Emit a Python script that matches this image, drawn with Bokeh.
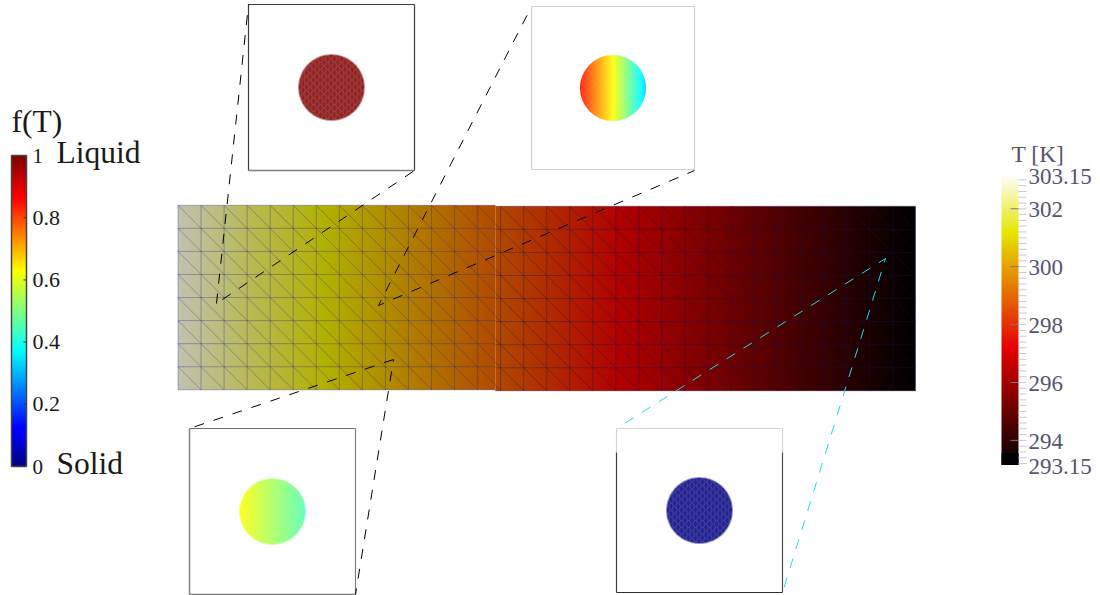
import numpy as np
from bokeh.plotting import figure
from bokeh.models import Range1d
from bokeh.core.properties import value
from bokeh.embed import file_html
from bokeh.resources import INLINE

# ---- data ----
# nodal temperature along the bar, one value per mesh column boundary (K)
bar_T = [302.95, 302.65, 302.35, 302.05, 301.80, 301.55, 301.27, 300.96, 300.65, 300.34, 300.02,
         299.71, 299.40, 299.09, 298.77, 298.46, 298.15, 297.84, 297.52, 297.21, 296.90, 296.59,
         296.27, 295.96, 295.65, 295.34, 295.02, 294.71, 294.40, 294.09, 293.77, 293.46, 293.15]
mesh_rows = [0, 1, 2, 3, 4, 5, 6, 7, 8]

# colour stops of both legends
T_stops = [293.15, 297.15, 301.15, 303.15]
T_r = [0, 230, 230, 255]
T_g = [0, 0, 230, 255]
T_b = [0, 0, 0, 255]
f_stops = [0.0, 0.11, 0.125, 0.37, 0.63, 0.865, 1.0]
f_r = [0, 0, 0, 0, 255, 255, 128]
f_g = [0, 0, 0, 255, 255, 0, 0]
f_b = [128, 255, 255, 255, 0, 0, 0]

f_ticks = [0.8, 0.6, 0.4, 0.2]
f_tick_labels = ["0.8", "0.6", "0.4", "0.2"]
f_ends = [1.0, 0.0]
f_end_labels = ["1", "0"]
f_states = ["Liquid", "Solid"]
T_major = [302, 300, 298, 296, 294]
T_major_labels = ["302", "300", "298", "296", "294"]
T_end = [303.15, 293.15]
T_end_labels = ["303.15", "293.15"]
T_minor = [293.2, 293.4, 293.6, 293.8, 294.0, 294.2, 294.4, 294.6, 294.8, 295.0, 295.2, 295.4, 295.6,
           295.8, 296.0, 296.2, 296.4, 296.6, 296.8, 297.0, 297.2, 297.4, 297.6, 297.8, 298.0, 298.2,
           298.4, 298.6, 298.8, 299.0, 299.2, 299.4, 299.6, 299.8, 300.0, 300.2, 300.4, 300.6, 300.8,
           301.0, 301.2, 301.4, 301.6, 301.8, 302.0, 302.2, 302.4, 302.6, 302.8, 303.0]

# liquid fraction across each inset's disc: left edge, centre, right edge
disc_pos = [-1.0, 0.0, 1.0]
disc_a = [1.0, 1.0, 1.0]
disc_b = [0.85, 0.63, 0.32]
disc_c = [0.63, 0.54, 0.45]
disc_d = [0.0, 0.0, 0.0]

# ---- page geometry ----
W, H = 1100, 595
p = figure(width=W, height=H, x_range=Range1d(0, W), y_range=Range1d(H, 0),
           output_backend="svg", toolbar_location=None, min_border=0,
           x_axis_location=None, y_axis_location=None, outline_line_color=None,
           background_fill_color="white", border_fill_color="white",
           styles={"position": "absolute", "left": "0px", "top": "0px"})
p.grid.visible = False


def linear_range(v0, px0, v1, px1, size):
    """Range whose value v0 falls on pixel px0 and v1 on px1, over a frame of `size` pixels."""
    k = (v1 - v0) / (px1 - px0)
    return v0 + (0 - px0) * k, v0 + (size - px0) * k


def add_x(name, v0, px0, v1, px1):
    a, b = linear_range(v0, px0, v1, px1, W)
    p.extra_x_ranges[name] = Range1d(a, b)


def add_y(name, v0, px0, v1, px1):
    a, b = linear_range(v0, px0, v1, px1, H)   # value at top pixel, value at bottom pixel
    p.extra_y_ranges[name] = Range1d(b, a)


FX0, FX1 = 177.5, 915.0
add_x("cell", 0, FX0, 32, FX1)
add_y("rowL", 0, 389.3, 8, 204.8)
add_y("rowR", 0, 390.3, 8, 205.8)
add_y("f", 0, 466, 1, 155)
add_y("T", 293.15, 464.5, 303.15, 175)


def cmap(v, stops, r, g, b):
    return np.stack([np.interp(v, stops, r), np.interp(v, stops, g), np.interp(v, stops, b)], axis=-1)


def rgba(rgb, alpha=None):
    out = np.zeros(rgb.shape[:2], dtype=np.uint32)
    view = out.view(np.uint8).reshape(rgb.shape[0], rgb.shape[1], 4)
    view[..., :3] = np.clip(rgb, 0, 255).astype(np.uint8)
    view[..., 3] = 255 if alpha is None else np.clip(alpha * 255, 0, 255).astype(np.uint8)
    return out


# ---- temperature field ----
DIM = 0.77
cells_split = 13.77
for c0, c1, rn in [(0, cells_split, "rowL"), (cells_split, 32, "rowR")]:
    n = int(round((c1 - c0) * 23.05))
    xs = np.linspace(c0, c1, n)
    T = np.interp(xs, np.arange(len(bar_T)), bar_T)
    rgb = cmap(T, T_stops, T_r, T_g, T_b) * DIM
    p.image_rgba(image=[rgba(rgb[None, :, :])], x=c0, y=0, dw=c1 - c0, dh=8,
                 x_range_name="cell", y_range_name=rn)

# mesh: horizontal, vertical, diagonal
for c0, c1, rn, cols, mesh_col, mesh_alpha in [
        (0, cells_split, "rowL", list(range(0, 14)), "#2a2a88", 0.34),
        (cells_split, 32, "rowR", list(range(14, 33)), "#14144c", 0.36)]:
    mx, my = [], []
    for r in mesh_rows:
        mx.append([c0, c1]); my.append([r, r])
    for c in cols:
        mx.append([c, c]); my.append([0, 8])
    for c in range(-8, 33):
        a0, b0 = c, 8
        a1, b1 = c + 8, 0
        if a0 < c0:
            b0 -= (c0 - a0); a0 = c0
        if a1 > c1:
            b1 += (a1 - c1); a1 = c1
        if a1 > a0:
            mx.append([a0, a1]); my.append([b0, b1])
    p.multi_line(mx, my, line_color=mesh_col, line_alpha=mesh_alpha, line_width=1,
                 x_range_name="cell", y_range_name=rn)

# ---- insets: (box left, top, right, bottom, disc profile, edge colours) ----
insets = [
    (248, 4, 414, 170, disc_a, 0.76),
    (531, 6, 694, 169, disc_b, 0.88),
    (189, 428, 355, 594, disc_c, 0.85),
    (616, 428, 782, 592, disc_d, 0.76),
]
for k, (l, t, r, b, prof, wash) in enumerate(insets):
    cx, cy = (l + r) / 2, (t + b) / 2
    R = 33.0
    n = 72
    ax = np.arange(n) - n / 2 + 0.5
    X, Y = np.meshgrid(ax, ax)
    d = np.hypot(X, Y)
    fval = np.interp(X / R, disc_pos, prof)
    col = cmap(fval, f_stops, f_r, f_g, f_b)
    # mesh texture of the fine disc: a fixed lattice, not data
    I, J = np.meshgrid(np.arange(n), np.arange(n))
    lattice = ((I * I * 3 + J * J * 5 + I * J * 7) % 7) / 6.0
    if wash < 0.8:
        a = wash + 0.2 * (lattice > 0.8) - 0.05 * (lattice < 0.3)
    else:
        a = wash + 0.06 * (lattice - 0.5)
    rgb = col * a[..., None] + 255 * (1 - a[..., None])
    alpha = np.clip(R + 0.5 - d, 0, 1)
    p.image_rgba(image=[rgba(rgb, alpha)], x=cx - n / 2, y=cy - n / 2, dw=n, dh=n)

# box outlines, side by side so each side keeps its own grey
segs = [
    ((248, 4, 414, 4), "#3c3c3c", 1.2), ((248, 4, 248, 170), "#3c3c3c", 1.2),
    ((414, 4, 414, 170), "#3c3c3c", 1.2), ((248, 170, 414, 170), "#808080", 1.5),
    ((531, 6, 694, 6), "#cfcfcf", 1.2), ((531, 6, 531, 169), "#cfcfcf", 1.2),
    ((694, 6, 694, 169), "#cfcfcf", 1.2), ((531, 169, 694, 169), "#cfcfcf", 1.2),
    ((189, 428, 355, 428), "#6e6e6e", 1.2), ((189, 428, 189, 594), "#808080", 1.5),
    ((355, 428, 355, 594), "#808080", 1.2), ((189, 594, 355, 594), "#808080", 1.5),
    ((616, 428, 782, 428), "#d4d4d4", 1.2), ((616, 428, 616, 452), "#d4d4d4", 1.2),
    ((782, 428, 782, 452), "#d4d4d4", 1.2), ((616, 452, 616, 592), "#404040", 1.2),
    ((782, 452, 782, 592), "#505050", 1.2), ((616, 592, 782, 592), "#303030", 1.2),
]
for (x0, y0, x1, y1), c, w in segs:
    p.line([x0, x1], [y0, y1], line_color=c, line_width=w)

# leaders: from a point on the bar to two corners of its inset, each with its dash phase
leaders = [
    ((216, 303), [((248, 4), 0), ((414, 170), 13)], "black"),
    ((378, 305), [((531, 6), 4), ((694, 170), 4)], "black"),
    ((393, 359), [((189, 428), 0), ((355, 594), 8)], "black"),
    ((885, 258), [((616, 428), 2), ((782, 592), 6)], "#22dede"),
]
for (tx, ty), corners, c in leaders:
    for (ex, ey), ph in corners:
        p.line([tx, ex], [ty, ey], line_color=c, line_width=1, line_dash="10 10", line_dash_offset=ph)

# ---- liquid fraction legend ----
v = np.linspace(0, 1, 311)
img = cmap(v, f_stops, f_r, f_g, f_b)[:, None, :]
p.image_rgba(image=[rgba(img)], x=11, y=0, dw=15, dh=1, y_range_name="f")
p.quad(left=[11], right=[26], bottom=[0], top=[1], fill_color=None,
       line_color="#444444", line_width=1.5, y_range_name="f")
p.segment(x0=[26] * 4, x1=[23] * 4, y0=f_ticks, y1=f_ticks, line_color="#333333", y_range_name="f")

SERIF = value("Liberation Serif")
INK = "#1a1a1a"
p.text(x=[32] * 4, y=f_ticks, text=f_tick_labels, text_font=SERIF, text_font_size="22px", text_color=INK,
       text_baseline="alphabetic", y_offset=0, y_range_name="f")
p.text(x=[32] * 2, y=f_ends, text=f_end_labels, text_font=SERIF, text_font_size="21px", text_color=INK,
       text_baseline="alphabetic", y_offset=0, y_range_name="f")
p.text(x=[56] * 2, y=f_ends, text=f_states, text_font=SERIF, text_font_size="31.5px", text_color=INK,
       text_baseline="alphabetic", y_offset=-3, y_range_name="f")
p.text(x=[11], y=[121], text=["f(T)"], text_font=SERIF, text_font_size="31.5px", text_color=INK,
       text_baseline="alphabetic")

# ---- temperature legend ----
v = np.linspace(T_end[1], T_end[0], 290)
img = cmap(v, T_stops, T_r, T_g, T_b)[:, None, :]
p.image_rgba(image=[rgba(img)], x=1001, y=T_end[1], dw=17, dh=T_end[0] - T_end[1], y_range_name="T")
p.quad(left=[1001], right=[1018], bottom=[293.15], top=[293.56], fill_color="black", line_color=None, y_range_name="T")
p.segment(x0=[1018] * len(T_minor), x1=[1026] * len(T_minor), y0=T_minor, y1=T_minor,
          line_color="#c8c8d8", y_range_name="T")
p.segment(x0=[1010] * len(T_major), x1=[1018] * len(T_major), y0=T_major, y1=T_major,
          line_color="#77778a", y_range_name="T")
TINK = "#55556f"
p.text(x=[1028] * 5, y=T_major, text=T_major_labels, text_font=SERIF, text_font_size="23px", text_color=TINK,
       text_baseline="alphabetic", y_offset=1, y_range_name="T")
p.text(x=[1028] * 2, y=T_end, text=T_end_labels, text_font=SERIF, text_font_size="23px", text_color=TINK,
       text_baseline="alphabetic", y_offset=1, y_range_name="T")
p.text(x=[1011], y=[153], text=["T [K]"], text_font=SERIF, text_font_size="23.5px", text_color=TINK,
       text_baseline="alphabetic")

open("out.html", "w").write(file_html(p, INLINE))
